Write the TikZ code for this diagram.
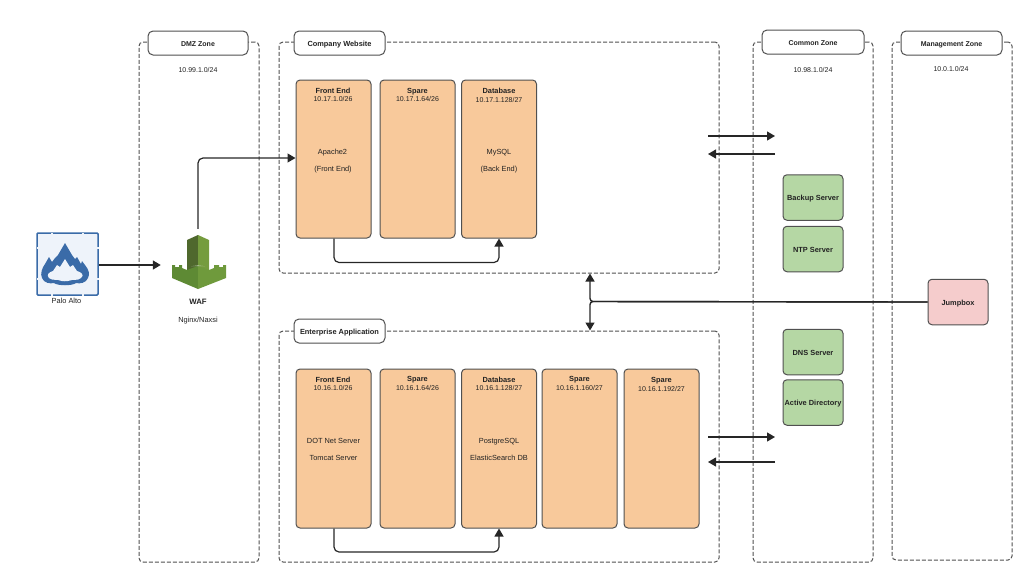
\documentclass[tikz,border=0pt]{standalone}
\usepackage{fontspec}
\setmainfont{Liberation Sans}
\usetikzlibrary{arrows.meta}
\definecolor{tierfill}{HTML}{F8C99B}
\definecolor{srvfill}{HTML}{B5D7A4}
\definecolor{jumpfill}{HTML}{F5CCCC}
\definecolor{linegray}{HTML}{505050}
\definecolor{inktext}{HTML}{222222}
\definecolor{paloblue}{HTML}{3A6BA8}
\definecolor{palofill}{HTML}{EEF3FA}
\definecolor{wafleft}{HTML}{4F682D}
\definecolor{wafright}{HTML}{759C3E}
\definecolor{wafarml}{HTML}{5E8A34}
\definecolor{wafarmr}{HTML}{6F9A3C}
\newcommand{\bodysize}{\fontsize{7.4}{9}\selectfont}
\newcommand{\netsize}{\fontsize{7}{8.4}\selectfont}
\begin{document}
\begin{tikzpicture}[x=1pt,y=-1pt,font=\bodysize,text=inktext]
	\tikzstyle{zone}=[rectangle,draw=linegray,dash pattern=on 4pt off 2pt,line width=1pt,rounded corners=4pt,inner sep=0pt]
	\tikzstyle{zonetitle}=[rectangle,draw=linegray,solid,line width=1pt,fill=white,rounded corners=5pt,minimum width=91pt,minimum height=24pt,inner sep=0pt,text height=6pt,text depth=0pt,font=\bodysize\bfseries]
	\tikzstyle{tier}=[rectangle,draw=linegray,line width=1pt,fill=tierfill,rounded corners=4pt,minimum width=75pt,minimum height=158pt,inner sep=0pt]
	\tikzstyle{srv}=[rectangle,draw=linegray,line width=1pt,fill=srvfill,rounded corners=4pt,minimum width=60pt,minimum height=45.5pt,inner sep=0pt,text height=6pt,text depth=0pt,font=\bodysize\bfseries]
	\tikzstyle{head}=[inner sep=0pt,align=center,font=\netsize]
	\tikzstyle{plain}=[inner sep=0pt,text height=6pt,text depth=0pt]
	\tikzstyle{link}=[draw=black!85,line width=1.2pt,rounded corners=5pt,-{Triangle[length=8pt,width=9pt]}]

	\useasboundingbox (0,0) rectangle (1024,574);

	% zones
	\node [zone,minimum width=120pt,minimum height=520pt] (dmz) at (199,302) {};
	\node [zone,minimum width=440pt,minimum height=231pt] (website) at (499,157.5) {};
	\node [zone,minimum width=440pt,minimum height=231pt] (enterprise) at (499,446.5) {};
	\node [zone,minimum width=120pt,minimum height=520pt] (common) at (813,302) {};
	\node [zone,minimum width=120pt,minimum height=518pt] (mgmt) at (952,301) {};

	\node [zonetitle,minimum width=100pt,font=\netsize\bfseries] (dmztitle) at (198,43) {DMZ Zone};
	\node [zonetitle] (webtitle) at (339.5,43) {Company Website};
	\node [zonetitle] (enttitle) at (339.5,331) {Enterprise Application};
	\node [zonetitle,minimum width=102pt,font=\netsize\bfseries] (comtitle) at (813,42) {Common Zone};
	\node [zonetitle,minimum width=101pt,font=\netsize\bfseries] (mgmttitle) at (951.5,43) {Management Zone};

	\node [plain,font=\netsize] (dmznet) at (198,69) {10.99.1.0/24};
	\node [plain,font=\netsize] (comnet) at (813,69) {10.98.1.0/24};
	\node [plain,font=\netsize] (mgmtnet) at (951,68) {10.0.1.0/24};

	% company website
	\node [tier] (webfe) at (333.5,159) {};
	\node [tier] (websp) at (417.5,159) {};
	\node [tier] (webdb) at (499,159) {};
	\node [head] at (333,95) {{\bodysize\bfseries Front End}\\10.17.1.0/26};
	\node [head] at (417.5,95) {{\bodysize\bfseries Spare}\\10.17.1.64/26};
	\node [head] at (499,95.5) {{\bodysize\bfseries Database}\\10.17.1.128/27};
	\node [plain] at (332.5,151) {Apache2};
	\node [plain] at (333,168) {(Front End)};
	\node [plain] at (499,151) {MySQL};
	\node [plain] at (499,168) {(Back End)};

	% enterprise application
	\node [tier,minimum height=159pt] (entfe) at (333.5,448.5) {};
	\node [tier,minimum height=159pt] (entsp) at (417.5,448.5) {};
	\node [tier,minimum height=159pt] (entdb) at (499,448.5) {};
	\node [tier,minimum height=159pt] (entsa) at (579.5,448.5) {};
	\node [tier,minimum height=159pt] (entsb) at (661.5,448.5) {};
	\node [head] at (333,384) {{\bodysize\bfseries Front End}\\10.16.1.0/26};
	\node [head] at (417.5,383.5) {{\bodysize\bfseries Spare}\\10.16.1.64/26};
	\node [head] at (499,384) {{\bodysize\bfseries Database}\\10.16.1.128/27};
	\node [head] at (579.5,383.5) {{\bodysize\bfseries Spare}\\10.16.1.160/27};
	\node [head] at (661.5,384.5) {{\bodysize\bfseries Spare}\\10.16.1.192/27};
	\node [plain] at (333.5,440) {DOT Net Server};
	\node [plain] at (333.5,457) {Tomcat Server};
	\node [plain] at (499,440) {PostgreSQL};
	\node [plain] at (499,457) {ElasticSearch DB};

	% servers
	\node [srv] (backup) at (813,197.5) {Backup Server};
	\node [srv] (ntp) at (813,249) {NTP Server};
	\node [srv] (dns) at (813,352) {DNS Server};
	\node [srv] (ad) at (813,402.5) {Active Directory};
	\node [srv,fill=jumpfill] (jumpbox) at (958,302) {Jumpbox};

	% palo alto
	\node [rectangle,draw=paloblue,line width=1.5pt,fill=palofill,rounded corners=1pt,minimum width=61pt,minimum height=62pt,inner sep=0pt] (palo) at (67.5,264) {};
	\foreach \px in {52,83} {
		\fill [palofill] (\px-0.8,232.5) rectangle (\px+0.8,233.6);
		\fill [palofill] (\px-0.8,294.4) rectangle (\px+0.8,295.5);
	}
	\foreach \py in {248,279} {
		\fill [palofill] (36.5,\py-0.8) rectangle (37.6,\py+0.8);
		\fill [palofill] (97.4,\py-0.8) rectangle (98.5,\py+0.8);
	}
	\fill [paloblue] (65,243) -- (72,255) -- (75,259) -- (77,257) -- (81,264) -- (82,261) -- (85,265)
		.. controls (89,270) and (90,274) .. (88,278) .. controls (86,283) and (80,284) .. (76,283)
		.. controls (72,286) and (58,286) .. (54,283) .. controls (50,284) and (44,283) .. (42,278)
		.. controls (40,274) and (42,268) .. (45,264) -- (49,257) -- (52,262) -- (55,258) -- (58,255) -- cycle;
	\fill [palofill] (65,259) -- (70,267) -- (73,265) -- (77,271) .. controls (81,272) and (85,275) .. (81,278)
		.. controls (78,281) and (73,279) .. (70,280.5) .. controls (67,281.5) and (62,281.5) .. (60,280.5)
		.. controls (58,279) and (52,281) .. (49,278) .. controls (46,275) and (49,272) .. (53,271) -- (57,265) -- (60,267) -- cycle;
	\node [plain] (palotext) at (66.5,300) {Palo Alto};

	% waf
	\node [plain,minimum width=74pt,minimum height=66pt] (waf) at (198,262) {};
	\fill [wafleft] (187,240) -- (198,235) -- (198,272) -- (187,270) -- cycle;
	\fill [wafright] (198,235) -- (209,240) -- (209,270) -- (198,272) -- cycle;
	\fill [wafarml] (172,265) -- (175,265) -- (175,267) -- (179,267) -- (179,265) -- (182,265) -- (182,268) -- (187,270)
		-- (198,266) -- (198,289) -- (172,278) -- cycle;
	\fill [wafarmr] (226,265) -- (223,265) -- (223,267) -- (219,267) -- (219,265) -- (214,265) -- (214,268) -- (209,270)
		-- (198,266) -- (198,289) -- (226,278) -- cycle;
	\fill [wafarml!40!white] (191,266.2) -- (205,266.2) -- (198,265.4) -- cycle;
	\node [plain,font=\fontsize{7.8}{10}\selectfont\bfseries] (waftext) at (198,301) {WAF};
	\node [plain] (wafsub) at (198,319) {Nginx/Naxsi};

	% connectors
	\coordinate (webout) at (708,136);
	\coordinate (webin) at (775,136);
	\coordinate (webback) at (775,154);
	\coordinate (webret) at (708,154);
	\coordinate (entout) at (708,437);
	\coordinate (entin) at (775,437);
	\coordinate (entback) at (775,462);
	\coordinate (entret) at (708,462);
	\coordinate (fork) at (590,301.5);

	\path [link,line width=1.5pt] (palo.east |- 0,265) -- (waf.west |- 0,265);
	\path [link] (waf.north) -- (198,158) -- (webfe.west |- 0,158);
	\path [link] (webfe.south -| 334,0) -- (334,262.5) -- (499,262.5) -- (webdb.south);
	\path [link] (entfe.south -| 334,0) -- (334,552) -- (499,552) -- (entdb.south);
	\path [link,rounded corners=0pt] (webout) -- (webin);
	\path [link,rounded corners=0pt] (webback) -- (webret);
	\path [link,rounded corners=0pt] (entout) -- (entin);
	\path [link,rounded corners=0pt] (entback) -- (entret);
	\path [link,line width=1.4pt,rounded corners=3pt] (jumpbox.west) -- (fork) -- (fork |- website.south);
	\path [link,line width=1.4pt,rounded corners=3pt] (jumpbox.west) -- (fork) -- (fork |- enterprise.north);
\end{tikzpicture}
\end{document}
